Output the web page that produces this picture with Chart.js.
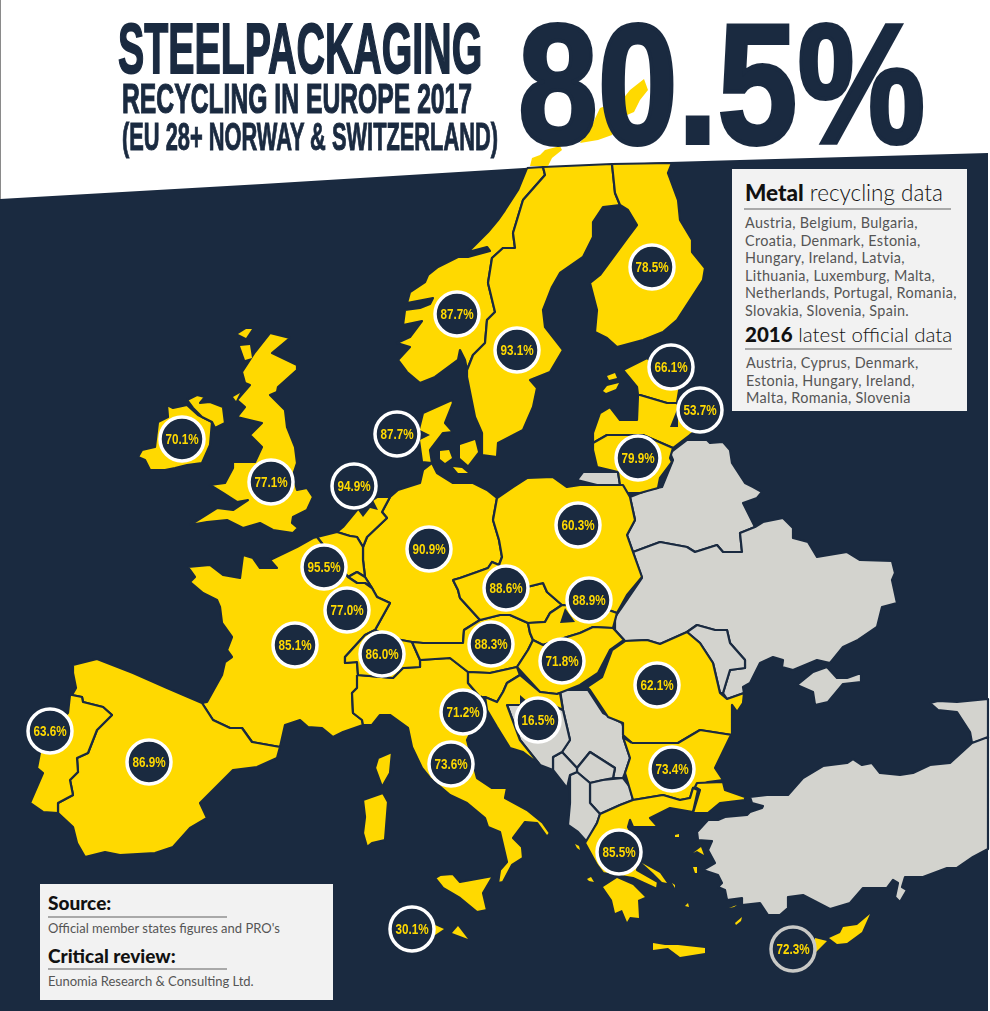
<!DOCTYPE html>
<html lang="en">
<head>
  <meta charset="UTF-8" />
  <title>Steel packaging recycling in Europe 2017</title>
  <script src="https://cdn.jsdelivr.net/npm/chart.js"></script>
  <style>
    body { margin: 0; background: #fff; font-family: Lato, "Open Sans", sans-serif; }
    #page { position: relative; width: 990px; height: 1011px; overflow: hidden; }
    #map { position: absolute; left: 0; top: 0; }
    #edge { position: absolute; left: 0; top: 0; width: 1px; height: 199px; background: #8a8a8a; }
    .head {
      position: absolute; white-space: nowrap; color: #1a2a40; line-height: 1;
      font-family: "Liberation Sans", sans-serif; font-weight: bold;
      transform-origin: 0 0;
    }
    .box { position: absolute; background: #f2f2f2; color: #555; }
    .box div { position: absolute; white-space: nowrap; }
    .box .h { color: #111; font-weight: 300; line-height: 1; }
    .box .h b { font-weight: 900; }
    .box .rule { height: 2px; background: #a9a9a9; }
    .box .txt { font-weight: 400; line-height: 17.5px; font-size: 14.4px; letter-spacing: 0.33px; color: #555; }
  </style>
</head>
<body>
<div id="page">
  <canvas id="map" width="990" height="1011"></canvas>
  <div id="edge"></div>

  <div class="head" data-w="364" style="left:118px;top:13px;font-size:71px;-webkit-text-stroke:1.8px #1a2a40">STEELPACKAGING</div>
  <div class="head" data-w="350" style="left:122px;top:78px;font-size:42px;-webkit-text-stroke:1.2px #1a2a40">RECYCLING IN EUROPE 2017</div>
  <div class="head" data-w="376" style="left:122px;top:118px;font-size:38px;-webkit-text-stroke:1px #1a2a40">(EU 28+ NORWAY &amp; SWITZERLAND)</div>
  <div class="head" data-w="407" style="left:518px;top:-1px;font-size:170px;-webkit-text-stroke:4px #1a2a40">80.5%</div>

  <div class="box" style="left:732px;top:169px;width:235px;height:242px">
    <div class="h" style="left:13px;top:13px;font-size:22.5px"><b>Metal</b> recycling data</div>
    <div class="rule" style="left:12px;top:39px;width:207px"></div>
    <div class="txt" style="left:13px;top:45px">Austria, Belgium, Bulgaria,<br>Croatia, Denmark, Estonia,<br>Hungary, Ireland, Latvia,<br>Lithuania, Luxemburg, Malta,<br>Netherlands, Portugal, Romania,<br>Slovakia, Slovenia, Spain.</div>
    <div class="h" style="left:13px;top:155px;font-size:20.5px"><b>2016</b> latest official data</div>
    <div class="rule" style="left:13px;top:179px;width:207px"></div>
    <div class="txt" style="left:14px;top:185px">Austria, Cyprus, Denmark,<br>Estonia, Hungary, Ireland,<br>Malta, Romania, Slovenia</div>
  </div>

  <div class="box" style="left:40px;top:884px;width:293px;height:116px">
    <div class="h" style="left:8px;top:9px;font-size:19px"><b>Source:</b></div>
    <div class="rule" style="left:8px;top:32px;width:179px"></div>
    <div class="txt" style="left:8px;top:36px;font-size:13px;letter-spacing:0">Official member states figures and PRO's</div>
    <div class="h" style="left:8px;top:62px;font-size:19px"><b>Critical review:</b></div>
    <div class="rule" style="left:8px;top:84px;width:179px"></div>
    <div class="txt" style="left:8px;top:89px;font-size:13px;letter-spacing:0">Eunomia Research &amp; Consulting Ltd.</div>
  </div>
</div>

<script>
  // recycling rate per country
  const rates = [78.5, 87.7, 93.1, 66.1, 53.7, 79.9, 87.7, 70.1, 77.1, 94.9, 60.3, 90.9, 95.5, 88.6, 88.9,
    77.0, 85.1, 86.0, 88.3, 71.8, 62.1, 71.2, 16.5, 63.6, 86.9, 73.6, 73.4, 85.5, 30.1, 72.3];
  const badgeX = [652, 457, 517, 671, 700, 638, 397, 182, 271, 354, 578, 429, 324, 506, 589,
    347, 295, 382, 491, 562, 657, 463, 538, 50, 149, 451, 672, 619, 412, 793];
  const badgeY = [267, 314, 350, 367, 410, 458, 434, 439, 482, 486, 525, 549, 567, 588, 600,
    610, 645, 654, 644, 661, 685, 712, 720, 731, 762, 764, 769, 852, 929, 949];

  // map outlines, in picture units
  const sea = [[0,199],[262,184],[524,168],[669,162],[988,153],[988,1011],[0,1011]];

  const norway = [[527,168],[518,190],[505,210],[498,220],[488,232],[477,243],[468,252],[487,247],[490,251],[468,257],[458,257],[438,267],[428,275],[425,282],[410,292],[407,303],[433,298],[430,304],[420,308],[405,310],[403,325],[422,321],[410,337],[397,343],[410,347],[398,360],[407,372],[420,383],[435,377],[458,360],[460,350],[465,360],[467,370],[473,355],[485,343],[487,320],[495,312],[488,283],[492,258],[503,248],[515,248],[513,233],[523,200],[545,175],[543,167]];
  const sweden = [[543,167],[545,175],[523,200],[513,233],[515,248],[503,248],[492,258],[488,283],[495,312],[487,320],[485,343],[473,355],[467,370],[467,377],[475,417],[482,433],[482,455],[497,457],[498,443],[523,430],[533,407],[537,388],[530,380],[550,372],[563,350],[545,327],[543,310],[552,287],[560,273],[583,257],[593,237],[593,222],[603,207],[620,205],[615,193],[612,164]];
  const finland = [[612,164],[672,163],[668,173],[678,200],[680,220],[692,240],[692,252],[705,268],[703,280],[677,320],[663,332],[643,340],[617,347],[607,338],[595,332],[597,310],[590,283],[600,275],[628,237],[637,225],[628,210],[620,205],[615,193]];
  const estonia = [[623,370],[647,358],[680,385],[677,403],[667,403],[640,395],[638,395],[637,387]];
  const latvia = [[638,395],[637,420],[620,420],[610,407],[600,413],[593,433],[593,443],[607,435],[643,435],[673,448],[690,435],[697,430],[677,403],[667,403],[640,395]];
  const lithuania = [[593,443],[607,435],[643,435],[673,448],[670,458],[672,462],[660,478],[658,488],[640,493],[627,493],[620,485],[618,472],[597,467],[593,450]];
  const denmark = [[452,400],[423,413],[418,433],[422,462],[432,463],[430,450],[443,433],[453,432],[445,423],[453,403]];
  const germany = [[423,470],[432,463],[437,473],[453,483],[473,483],[487,490],[497,498],[493,520],[499,540],[502,557],[499,565],[492,562],[488,568],[477,572],[460,578],[453,580],[458,590],[460,598],[480,620],[464,630],[463,643],[450,645],[423,643],[412,642],[390,638],[375,630],[390,603],[377,597],[372,588],[365,577],[363,560],[363,547],[367,537],[387,518],[382,512],[390,497],[398,490],[420,483]];
  const netherlands = [[390,497],[377,497],[357,510],[343,527],[337,532],[350,536],[357,537],[363,547],[367,537],[387,518],[382,512]];
  const belgium = [[337,532],[317,537],[348,577],[357,572],[365,577],[363,560],[363,547],[357,537],[350,536]];
  const luxembourg = [[357,572],[365,577],[372,588],[365,583],[357,583],[348,577]];
  const france = [[188,567],[210,565],[223,575],[240,578],[243,555],[253,558],[260,568],[277,568],[270,560],[297,547],[313,538],[317,537],[348,577],[357,583],[365,583],[372,588],[377,597],[390,603],[375,630],[365,635],[345,657],[345,663],[357,662],[358,675],[357,688],[352,693],[353,713],[362,720],[363,725],[343,732],[333,737],[322,728],[308,727],[300,720],[285,725],[280,747],[252,742],[242,728],[230,728],[213,720],[202,703],[207,702],[222,675],[225,662],[232,657],[227,650],[232,637],[222,623],[220,607],[217,600],[203,593],[190,582],[195,577],[190,570]];
  const spain = [[73,665],[97,659],[133,673],[167,688],[202,703],[213,720],[230,728],[242,728],[252,742],[280,747],[277,758],[257,767],[233,770],[200,803],[207,818],[190,828],[173,847],[155,853],[120,855],[105,852],[85,857],[77,843],[73,827],[58,813],[58,803],[73,795],[70,780],[78,772],[77,758],[88,753],[97,730],[112,715],[103,707],[83,702],[82,697],[72,695],[76,688],[73,673]];
  const portugal = [[70,695],[72,695],[82,697],[83,702],[103,707],[112,715],[97,730],[88,753],[77,758],[78,772],[70,780],[73,795],[58,803],[58,813],[43,812],[30,803],[43,773],[37,768],[43,737],[68,713]];
  const italy = [[357,675],[393,678],[403,668],[420,667],[420,660],[450,658],[468,672],[468,683],[480,697],[483,708],[467,740],[477,778],[492,788],[507,788],[505,798],[527,810],[543,823],[550,833],[547,837],[537,823],[525,822],[513,838],[522,847],[523,858],[512,865],[503,882],[498,883],[500,870],[507,862],[500,832],[488,827],[485,818],[467,803],[450,795],[430,778],[422,768],[412,747],[408,728],[390,715],[380,715],[372,725],[363,725],[362,720],[353,713],[352,693],[357,688]];
  const sicily = [[435,878],[440,875],[453,874],[460,882],[493,876],[483,893],[487,910],[477,912],[460,898],[443,888]];
  const sardinia = [[363,800],[383,793],[388,802],[385,840],[372,843],[367,847],[363,833],[365,817]];
  const corsica = [[392,752],[390,773],[382,787],[375,768],[378,758]];
  const switzerland = [[375,630],[390,638],[412,642],[420,660],[420,667],[403,668],[393,678],[358,675],[357,662],[345,663],[345,657],[365,635]];
  const austria = [[464,630],[480,620],[500,615],[510,615],[528,623],[530,633],[533,640],[528,650],[517,667],[490,673],[468,672],[450,658],[420,660],[412,642],[423,643],[463,643]];
  const czechia = [[453,580],[460,578],[477,572],[488,568],[492,562],[499,565],[527,587],[543,583],[547,592],[562,605],[550,613],[545,622],[528,623],[510,615],[500,615],[480,620],[460,598],[458,590]];
  const poland = [[497,498],[513,487],[527,478],[553,477],[567,487],[580,485],[623,485],[630,497],[635,520],[627,535],[633,552],[642,577],[627,595],[617,613],[600,607],[562,605],[547,592],[543,583],[527,587],[499,565],[502,557],[499,540],[493,520]];
  const slovakia = [[562,605],[550,613],[545,622],[528,623],[530,633],[533,640],[543,645],[567,637],[580,633],[593,627],[613,628],[617,613],[600,607]];
  const hungary = [[533,640],[543,645],[567,637],[580,633],[593,627],[613,628],[624,640],[610,650],[598,673],[580,685],[557,694],[540,692],[517,667],[528,650]];
  const romania = [[625,641],[647,640],[660,644],[687,632],[700,643],[713,663],[720,693],[727,699],[744,693],[743,703],[737,712],[732,705],[732,735],[700,730],[678,743],[632,743],[623,735],[623,723],[608,717],[590,690],[587,687],[602,677],[612,650]];
  const bulgaria = [[632,743],[678,743],[700,730],[732,735],[730,737],[715,768],[723,780],[708,782],[693,788],[690,798],[680,800],[663,795],[633,800],[625,773],[630,758],[623,737]];
  const greece = [[600,814],[620,805],[633,800],[663,795],[680,800],[690,798],[693,788],[698,790],[693,812],[670,808],[650,818],[658,827],[633,827],[630,820],[628,827],[640,850],[640,862],[637,870],[658,882],[657,889],[633,878],[603,873],[597,865],[585,843],[597,823]];
  const thrace = [[695,787],[697,783],[723,782],[725,790],[745,797],[745,800],[720,803],[708,813],[693,813],[700,790]];
  const slovenia = [[468,672],[490,673],[517,667],[520,675],[507,683],[503,692],[497,702],[485,697],[480,697],[468,683]];
  const croatia = [[520,675],[540,692],[557,694],[560,693],[563,710],[548,703],[520,705],[507,705],[520,740],[540,765],[523,752],[510,748],[497,727],[487,710],[485,697],[497,702],[503,692],[507,683]];
  const ireland = [[167,405],[173,408],[187,405],[198,415],[212,422],[210,445],[202,463],[187,465],[175,468],[165,470],[150,470],[145,460],[138,457],[142,450],[155,447],[158,422],[168,417]];
  const ulster = [[187,400],[197,395],[205,397],[200,403],[210,402],[223,407],[225,423],[215,428],[212,422],[202,417],[193,408]];
  const britain = [[270,333],[290,338],[272,353],[297,365],[297,370],[278,387],[277,392],[270,395],[285,410],[287,427],[295,447],[297,463],[293,475],[297,490],[307,488],[313,497],[307,510],[293,517],[292,523],[298,528],[293,533],[273,530],[260,523],[243,528],[227,520],[207,522],[190,525],[217,508],[233,510],[248,500],[237,502],[223,493],[210,485],[225,483],[233,468],[233,462],[255,462],[262,447],[250,435],[262,423],[237,417],[245,407],[237,400],[250,385],[245,383],[242,372],[255,352]];

  const bitsOfLand = [
    [[644,79],[648,90],[640,100],[634,112],[620,118],[612,135],[598,140],[580,143],[592,125],[600,108],[622,100],[630,90]],
    [[530,166],[532,158],[540,155],[545,150],[560,146],[562,150],[552,158],[548,166]],
    [[607,376],[615,373],[617,378],[609,380]], [[603,391],[607,386],[619,383],[616,389],[606,393]],
    [[460,445],[475,440],[478,452],[468,465],[460,458]], [[440,451],[449,450],[452,458],[445,463],[440,459]], [[453,467],[462,468],[468,473],[458,473]],
    [[238,334],[246,329],[252,329],[246,338]], [[240,346],[250,345],[252,358],[245,360]], [[233,397],[240,393],[236,401]],
    [[653,943],[665,945],[678,945],[705,948],[705,953],[680,957],[668,948],[653,950]],
    [[603,887],[617,878],[633,885],[645,897],[638,900],[639,918],[630,917],[627,922],[622,910],[615,913],[612,900]],
    [[642,863],[660,873],[667,883],[662,882],[653,873]],
    [[575,844],[579,846],[580,850],[577,848]], [[587,879],[591,877],[594,882],[589,881]], [[675,835],[679,834],[679,837],[675,837]],
    [[693,853],[701,847],[704,855],[697,851]], [[693,867],[697,867],[697,873],[695,873]], [[685,906],[688,903],[689,907]],
    [[735,923],[742,917],[741,921],[736,925]], [[729,908],[737,905],[734,907]], [[672,883],[675,885],[675,888]],
    [[435,925],[444,929],[435,935]], [[458,926],[468,939],[452,933]],
    [[870,914],[862,932],[847,943],[837,944],[829,938],[840,933],[843,927],[857,925]],
    [[827,941],[815,938],[815,953]]
  ];

  const belarus = [[670,453],[687,440],[707,440],[710,443],[723,442],[730,450],[732,463],[745,483],[753,487],[762,492],[757,498],[743,503],[755,527],[740,533],[742,552],[723,552],[717,545],[695,552],[687,547],[660,542],[633,552],[627,535],[635,520],[630,497],[648,490],[662,487],[673,460]];
  const ukraine = [[633,552],[660,542],[687,547],[695,552],[717,545],[723,552],[742,552],[740,533],[755,527],[763,522],[783,518],[793,528],[793,538],[808,542],[817,557],[847,552],[860,560],[892,561],[895,573],[892,580],[897,603],[882,607],[877,627],[858,640],[843,647],[830,663],[817,660],[793,670],[782,667],[783,660],[773,657],[760,663],[750,683],[743,687],[744,693],[727,699],[723,693],[730,670],[745,668],[745,660],[730,643],[727,630],[715,630],[697,625],[687,632],[660,644],[647,640],[625,641],[615,630],[615,617],[622,607],[642,578]];
  const moldova = [[687,632],[697,625],[715,630],[727,630],[730,643],[745,660],[745,668],[730,670],[723,693],[720,693],[713,663],[700,643]];
  const crimea = [[797,685],[813,672],[827,667],[837,678],[847,678],[861,673],[861,682],[843,684],[828,702],[815,705],[813,692]];
  const kaliningrad = [[577,480],[583,472],[597,472],[618,472],[620,485],[597,485]];
  const caucasus = [[930,703],[938,701],[957,702],[988,699],[988,738],[972,743],[970,732],[957,712],[938,710]];
  const turkey = [[988,737],[972,743],[950,763],[930,765],[913,773],[900,775],[880,773],[872,763],[862,765],[853,759],[847,763],[823,766],[803,778],[788,795],[767,795],[750,797],[752,803],[763,806],[762,808],[750,812],[747,815],[725,817],[718,820],[708,820],[697,832],[698,840],[712,841],[708,850],[715,863],[703,870],[718,875],[722,883],[718,887],[725,890],[727,900],[742,898],[742,905],[760,903],[768,915],[780,915],[788,908],[788,897],[803,895],[830,909],[850,903],[863,888],[887,888],[893,880],[898,883],[895,897],[900,902],[907,890],[902,887],[905,877],[923,877],[947,868],[957,868],[973,857],[988,849]];
  const serbia = [[560,690],[588,690],[603,713],[622,723],[625,732],[623,737],[630,758],[625,773],[623,778],[613,778],[615,768],[590,752],[577,768],[562,752],[570,740],[563,710]];
  const kosovo = [[590,752],[615,768],[613,778],[603,780],[590,783],[577,772],[577,768]];
  const macedonia = [[590,783],[603,780],[623,778],[630,787],[633,800],[620,805],[600,814],[590,803]];
  const albania = [[570,775],[577,772],[590,783],[590,803],[600,814],[597,823],[587,842],[578,832],[568,825],[570,803]];
  const montenegro = [[553,757],[562,752],[577,768],[577,772],[570,775],[567,788],[553,770]];
  const bosnia = [[507,705],[520,705],[548,703],[563,710],[570,740],[562,752],[553,757],[553,770],[540,765],[520,740]];

  // little wedges that tie a badge to its country
  const pointers = [
    [[670,427],[678,427],[678,407]], [[420,430],[430,435],[420,440]], [[373,500],[378,510],[370,508],[363,517],[358,510]],
    [[560,623],[565,608],[575,622]], [[473,705],[482,695],[482,712]], [[520,695],[528,702],[520,705]]
  ];

  const yellowLands = [norway, sweden, finland, estonia, latvia, lithuania, denmark, germany, netherlands, belgium, luxembourg,
    france, spain, portugal, italy, sicily, sardinia, corsica, switzerland, austria, czechia, poland, slovakia, hungary, romania,
    bulgaria, greece, thrace, slovenia, croatia, ireland, ulster, britain];
  const greyLands = [belarus, ukraine, moldova, crimea, kaliningrad, caucasus, turkey, serbia, kosovo, macedonia, albania, montenegro, bosnia];

  const NAVY = '#1a2a40', YELLOW = '#ffd900', GREY = '#d3d3ce';

  function shape(points, color, edge) {
    return {
      type: 'scatter',
      data: points.map(p => ({ x: p[0], y: p[1] })),
      showLine: true,
      fill: 'shape',
      backgroundColor: color,
      borderColor: NAVY,
      borderWidth: edge,
      borderJoinStyle: 'round',
      pointRadius: 0,
      tension: 0
    };
  }

  const datasets = [
    shape(sea, NAVY, 0),
    ...greyLands.map(s => shape(s.concat([s[0]]), GREY, 2.2)),
    ...yellowLands.map(s => shape(s.concat([s[0]]), YELLOW, 2.2)),
    ...bitsOfLand.map(s => shape(s, YELLOW, 0)),
    ...pointers.map(s => shape(s, NAVY, 0)),
    {
      type: 'scatter',
      data: rates.map((r, i) => ({ x: badgeX[i], y: badgeY[i], rate: r })),
      pointRadius: 22,
      pointBorderWidth: 3.5,
      pointBackgroundColor: NAVY,
      pointBorderColor: ctx => ctx.dataIndex === rates.length - 1 ? '#c9c9c6' : '#fff'
    }
  ];
  datasets.forEach((d, i) => { d.order = -i; });

  const badgeText = {
    id: 'badgeText',
    afterDatasetsDraw(chart) {
      const { ctx, scales } = chart;
      ctx.font = 'bold 15px "Liberation Sans", sans-serif';
      ctx.fillStyle = YELLOW;
      ctx.textAlign = 'center';
      ctx.textBaseline = 'middle';
      rates.forEach((r, i) => {
        ctx.save();
        ctx.translate(scales.x.getPixelForValue(badgeX[i]), scales.y.getPixelForValue(badgeY[i]) + 0.5);
        ctx.scale(0.78, 1);
        ctx.fillText(r.toFixed(1) + '%', 0, 0);
        ctx.restore();
      });
    }
  };

  new Chart(document.getElementById('map'), {
    type: 'scatter',
    data: { datasets },
    plugins: [badgeText],
    options: {
      responsive: false,
      animation: false,
      layout: { padding: 0, autoPadding: false },
      events: [],
      scales: {
        x: { type: 'linear', min: 0, max: 990, display: false },
        y: { type: 'linear', min: 0, max: 1011, reverse: true, display: false }
      },
      plugins: {
        legend: { display: false },
        tooltip: { enabled: false },
        filler: { drawTime: 'beforeDatasetDraw' }
      }
    }
  });

  // squeeze the headline text to the width it has in the picture
  document.querySelectorAll('.head').forEach(el => {
    el.style.transform = 'scaleX(' + (el.dataset.w / el.offsetWidth) + ')';
  });
</script>
</body>
</html>
